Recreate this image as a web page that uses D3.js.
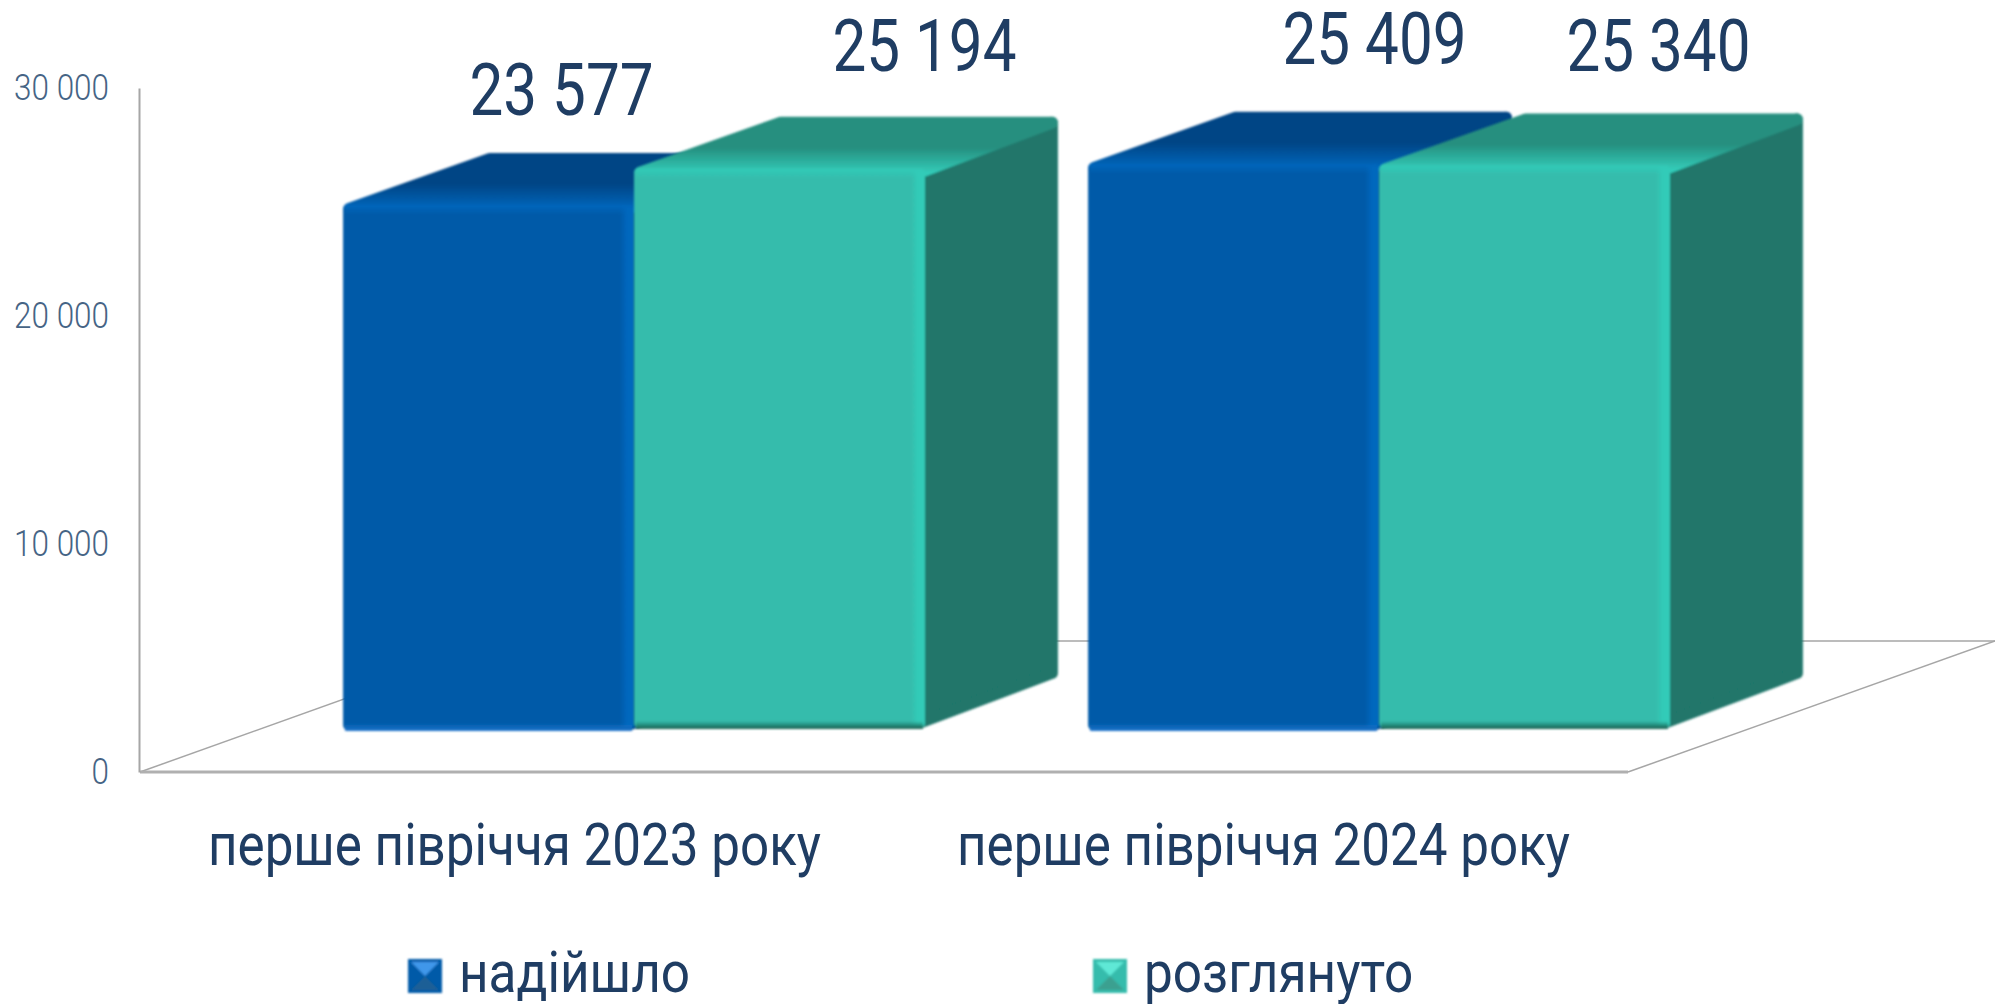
<!DOCTYPE html>
<html>
<head>
<meta charset="utf-8">
<script src="https://cdn.jsdelivr.net/npm/d3@7"></script>
<style>
  body { margin: 0; background: #fff; }
  text { font-family: "Roboto", sans-serif; }
</style>
</head>
<body>
<div class="chart"></div>
<script>
const categories = ['перше півріччя 2023 року', 'перше півріччя 2024 року'];
const seriesNames = ['надійшло', 'розглянуто'];
const received = [23577, 25409];
const reviewed = [25194, 25340];
const yTicks = [0, 10000, 20000, 30000];

const width = 1995, height = 1004;
const textColor = '#1f3d63';
const palette = [
  { front: '#005aa8', edge: '#0067bd', top: '#004585', side: '#00417c', low: '#1c74cc', swatchHi: '#3f97ea', swatchLo: '#1f5f96' },
  { front: '#34bcac', edge: '#33cbb8', top: '#268f7f', side: '#20766a', low: '#17604f', swatchHi: '#5fe8d6', swatchLo: '#3aa090' }
];

// bars are drawn on the front plane, the depth vector is the bar's own offset
const depthX = 133, depthY = 50;

const fmt = v => d3.format(',')(v).replace(/,/g, ' ');

// no condensed face is installed, so squeeze the glyphs to the measured width
function narrow(selection, factor) {
  selection.each(function () {
    d3.select(this)
      .attr('textLength', this.getComputedTextLength() * factor)
      .attr('lengthAdjust', 'spacingAndGlyphs');
  });
}

const svg = d3.select('.chart').append('svg')
  .attr('width', width)
  .attr('height', height);

const defs = svg.append('defs');

defs.append('filter').attr('id', 'soft')
  .append('feGaussianBlur').attr('stdDeviation', 1);

// axis scale sits on the wall, bar scale on the front plane of the bars
const yAxisScale = d3.scaleLinear().domain([0, 30000]).range([772, 88]);
const yBar = d3.scaleLinear().domain([0, 30000]).range([731, 59]);

const x0 = d3.scaleBand()
  .domain(categories)
  .range([261.5, 1751.5])
  .paddingInner(0.219)
  .paddingOuter(0.1095);
const x1 = d3.scaleBand()
  .domain(seriesNames)
  .range([0, x0.bandwidth()]);

// floor and back wall
const floorBack = 641, floorFront = yAxisScale(0);
svg.append('g')
  .attr('fill', 'none')
  .attr('stroke', '#a6a6a6')
  .selectAll('path')
  .data([
    [[140, floorFront], [506, floorBack]],
    [[506, floorBack], [1995, floorBack]],
    [[1628, floorFront], [1995, floorBack]]
  ])
  .join('path')
  .attr('stroke-width', 1.5)
  .attr('d', d3.line());
svg.append('line')
  .attr('x1', 140).attr('x2', 1628)
  .attr('y1', floorFront).attr('y2', floorFront)
  .attr('stroke', '#b0b0b0')
  .attr('stroke-width', 3);

// y axis
const yAxis = d3.axisLeft(yAxisScale)
  .tickValues(yTicks)
  .tickFormat(fmt)
  .tickSize(0)
  .tickPadding(30);
svg.append('g')
  .attr('transform', 'translate(139,0)')
  .call(yAxis)
  .call(g => g.select('.domain').attr('stroke', '#a6a6a6').attr('stroke-width', 2))
  .selectAll('text')
  .attr('font-size', 37)
  .attr('font-weight', 300)
  .attr('fill', '#466485')
  .attr('dy', '0.3em')
  .call(narrow, 0.85);

// gradient ids per series
palette.forEach((c, i) => {
  const g = defs.append('linearGradient').attr('id', 'topfade' + i)
    .attr('x1', 0).attr('x2', 0).attr('y1', 0).attr('y2', 1);
  g.append('stop').attr('offset', 0).attr('stop-color', c.top);
  g.append('stop').attr('offset', 0.5).attr('stop-color', c.top);
  g.append('stop').attr('offset', 1).attr('stop-color', c.edge);

  const r = defs.append('linearGradient').attr('id', 'rightfade' + i);
  r.append('stop').attr('offset', 0).attr('stop-color', c.edge).attr('stop-opacity', 0);
  r.append('stop').attr('offset', 0.5).attr('stop-color', c.edge);
  r.append('stop').attr('offset', 1).attr('stop-color', c.edge);

  const t = defs.append('linearGradient').attr('id', 'upfade' + i)
    .attr('x1', 0).attr('x2', 0).attr('y1', 1).attr('y2', 0);
  t.append('stop').attr('offset', 0).attr('stop-color', c.edge).attr('stop-opacity', 0);
  t.append('stop').attr('offset', 1).attr('stop-color', c.edge);

  const b = defs.append('linearGradient').attr('id', 'lowfade' + i)
    .attr('x1', 0).attr('x2', 0).attr('y1', 0).attr('y2', 1);
  b.append('stop').attr('offset', 0).attr('stop-color', c.low).attr('stop-opacity', 0);
  b.append('stop').attr('offset', 1).attr('stop-color', c.low);
});

const barData = categories.flatMap((cat, i) => [
  { cat, name: seriesNames[0], s: 0, value: received[i] },
  { cat, name: seriesNames[1], s: 1, value: reviewed[i] }
]);

const bars = svg.selectAll('.bar')
  .data(barData)
  .join('g')
  .attr('class', 'bar')
  .attr('filter', 'url(#soft)');

const left = d => x0(d.cat) + x1(d.name);
const right = d => left(d) + x1.bandwidth();
// the teal bars sit a touch higher on the floor than the blue ones
const base = d => yBar(0) - d.s * 2;
const r = 6;

// side face
bars.append('path')
  .attr('fill', d => palette[d.s].side)
  .attr('stroke', d => palette[d.s].side)
  .attr('stroke-width', r * 2)
  .attr('stroke-linejoin', 'round')
  .attr('d', d => {
    const xr = right(d) - r, t = yBar(d.value) + r, b = base(d) - r;
    return d3.line()([
      [xr, t], [xr + depthX, t - depthY],
      [xr + depthX, b - depthY], [xr, b]
    ]) + 'Z';
  });

// top face
bars.append('path')
  .attr('fill', d => `url(#topfade${d.s})`)
  .attr('stroke', d => `url(#topfade${d.s})`)
  .attr('stroke-width', r * 2)
  .attr('stroke-linejoin', 'round')
  .attr('d', d => {
    const t = yBar(d.value) + r, xl = left(d) + r, xr = right(d) - r;
    return d3.line()([
      [xl, t], [xr, t], [xr + depthX, t - depthY],
      [xl + depthX + 8, t - depthY]
    ]) + 'Z';
  });

// front face
bars.append('rect')
  .attr('x', left)
  .attr('y', d => yBar(d.value) + 2)
  .attr('width', x1.bandwidth())
  .attr('height', d => base(d) - yBar(d.value) - 2)
  .attr('rx', r)
  .attr('fill', d => palette[d.s].front);

// bevel strips on the front face
bars.append('rect')
  .attr('x', d => right(d) - 14)
  .attr('y', d => yBar(d.value) + 4)
  .attr('width', 14)
  .attr('height', d => base(d) - yBar(d.value) - 8)
  .attr('fill', d => `url(#rightfade${d.s})`);
bars.append('rect')
  .attr('x', d => left(d) + 2)
  .attr('y', d => yBar(d.value) + 2)
  .attr('width', x1.bandwidth() - 4)
  .attr('height', 10)
  .attr('fill', d => `url(#upfade${d.s})`);
bars.append('rect')
  .attr('x', d => left(d) + 2)
  .attr('y', d => base(d) - 8)
  .attr('width', x1.bandwidth() - 4)
  .attr('height', 8)
  .attr('fill', d => `url(#lowfade${d.s})`);

// value labels, placed by hand in the original so they drift off the bars
const labelNudgeX = [73, 145, 141, 134];
const labelNudgeY = [-88, -96, -98, -92];
svg.selectAll('.value')
  .data(barData)
  .join('text')
  .attr('class', 'value')
  .attr('text-anchor', 'middle')
  .attr('font-size', 72)
  .attr('fill', textColor)
  .attr('x', (d, i) => left(d) + x1.bandwidth() / 2 + labelNudgeX[i])
  .attr('y', (d, i) => yBar(d.value) + labelNudgeY[i])
  .text(d => fmt(d.value))
  .call(narrow, 0.836);

// category labels
const xAxisScale = d3.scaleBand().domain(categories).range([140, 1638]);
svg.append('g')
  .attr('transform', `translate(0,${floorFront})`)
  .call(d3.axisBottom(xAxisScale).tickSize(0).tickPadding(50))
  .call(g => g.select('.domain').remove())
  .selectAll('text')
  .attr('font-size', 60)
  .attr('fill', textColor)
  .call(narrow, 0.853);

// legend
const legendX = d3.scaleOrdinal().domain(seriesNames).range([408, 1093]);
const legend = svg.selectAll('.legend')
  .data(seriesNames)
  .join('g')
  .attr('class', 'legend')
  .attr('transform', d => `translate(${legendX(d)},959)`);
const sw = 34;
const swatch = legend.append('g').attr('filter', 'url(#soft)');
swatch.append('rect')
  .attr('width', sw).attr('height', sw)
  .attr('fill', (d, i) => palette[i].front);
swatch.append('path')
  .attr('fill', (d, i) => palette[i].swatchHi)
  .attr('d', d3.line()([[3, 3], [sw - 3, 3], [sw / 2, sw / 2]]) + 'Z');
swatch.append('path')
  .attr('fill', (d, i) => palette[i].swatchLo)
  .attr('d', d3.line()([[3, sw - 3], [sw - 3, sw - 3], [sw / 2, sw / 2]]) + 'Z');
legend.append('text')
  .attr('x', sw + 17)
  .attr('y', sw - 1)
  .attr('font-size', 58)
  .attr('fill', textColor)
  .text(d => d)
  .call(narrow, 0.885);
</script>
</body>
</html>
